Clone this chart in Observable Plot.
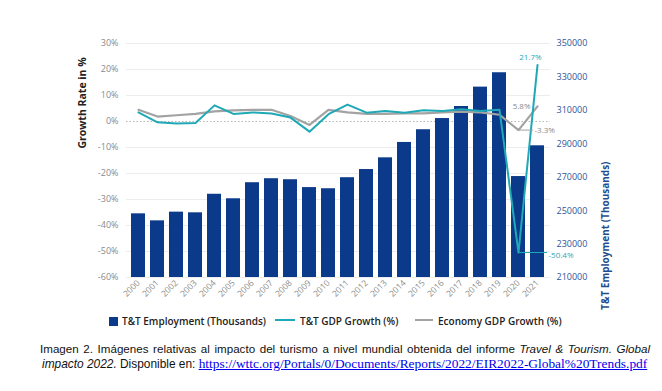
<!DOCTYPE html>
<html><head><meta charset="utf-8">
<script src="https://cdn.jsdelivr.net/npm/d3@7"></script>
<script src="https://cdn.jsdelivr.net/npm/@observablehq/plot@0.6"></script>
<style>
body{margin:0;background:#fff;}
#wrap{position:relative;width:662px;height:391px;overflow:hidden;}
#chart{position:absolute;left:0;top:0;}
.lg{position:absolute;font-family:"Open Sans",sans-serif;font-weight:600;font-size:10px;color:#222;line-height:12px;top:315px;white-space:nowrap;}
.sw{position:absolute;}
.cap{position:absolute;left:40px;width:610px;font-family:"Liberation Sans",Arial,sans-serif;font-size:11.6px;color:#111;text-align:justify;text-align-last:justify;white-space:nowrap;line-height:14px;}
.cap2{text-align:left;text-align-last:left;left:42px;font-size:11.9px;}
.cap a{font-family:"Liberation Serif","Times New Roman",serif;font-size:13.4px;color:#0000ee;text-decoration:underline;}
</style></head><body>
<div id="wrap">
<div id="chart"></div>
<div class="sw" style="left:109px;top:317px;width:9px;height:9px;background:#0b3a8a"></div>
<div class="lg" style="left:122px">T&amp;T Employment (Thousands)</div>
<div class="sw" style="left:275px;top:319px;width:20px;height:2px;background:#1fa9b6"></div>
<div class="lg" style="left:300px">T&amp;T GDP Growth (%)</div>
<div class="sw" style="left:415px;top:319px;width:18px;height:2px;background:#a3a3a3"></div>
<div class="lg" style="left:438px">Economy GDP Growth (%)</div>
<div class="cap" style="top:342px">Imagen 2. Imágenes relativas al impacto del turismo a nivel mundial obtenida del informe <i>Travel &amp; Tourism. Global</i></div>
<div class="cap cap2" style="top:357px"><i>impacto 2022.</i> Disponible en: <a href="https://wttc.org/Portals/0/Documents/Reports/2022/EIR2022-Global%20Trends.pdf">https://wttc.org/Portals/0/Documents/Reports/2022/EIR2022-Global%20Trends.pdf</a></div>
</div>
<script>
const years = ["2000","2001","2002","2003","2004","2005","2006","2007","2008","2009","2010","2011","2012","2013","2014","2015","2016","2017","2018","2019","2020","2021"];
const employment = [248100,243900,249100,248700,259800,257100,266700,269100,268500,263800,263100,269700,274600,281600,290800,298400,305100,312300,323900,332500,270400,288800];
const ttGdpGrowth = [3.5,-0.3,-0.8,-0.6,6.2,2.9,3.5,3.1,1.5,-3.9,2.8,6.5,3.4,4.0,3.4,4.3,4.0,4.7,4.0,4.5,-50.4,21.7];
const economyGdpGrowth = [4.5,1.9,2.4,2.9,3.9,4.3,4.5,4.5,2.1,-1.3,4.5,3.5,2.9,2.9,3.1,3.1,3.5,3.8,3.5,2.6,-3.3,5.8];
const leftTicks = [30,20,10,0,-10,-20,-30,-40,-50,-60];
const rightTicks = [350000,330000,310000,290000,270000,250000,230000,210000];
const pctDomain = [-60, 30];
const empDomain = [210000, 350000];

const toPct = v => pctDomain[0] + (v - empDomain[0]) / (empDomain[1] - empDomain[0]) * (pctDomain[1] - pctDomain[0]);
const toEmp = p => Math.round(empDomain[0] + (p - pctDomain[0]) / (pctDomain[1] - pctDomain[0]) * (empDomain[1] - empDomain[0]));

const data = years.map((year, i) => ({year, emp: employment[i], tt: ttGdpGrowth[i], econ: economyGdpGrowth[i]}));
const last = data[data.length - 1];
const prev = data[data.length - 2];

const plot = Plot.plot({
  width: 662, height: 310,
  marginLeft: 126, marginRight: 112, marginTop: 43, marginBottom: 33,
  style: {fontFamily: "Open Sans, sans-serif", background: "transparent", overflow: "visible"},
  x: {type: "band", domain: years, paddingInner: 0.26, paddingOuter: 0.13},
  y: {domain: pctDomain},
  marks: [
    Plot.ruleY(leftTicks.filter(d => d !== 0), {stroke: "#ececec", strokeWidth: 1}),
    Plot.ruleY([0], {stroke: "#b5b5b5", strokeWidth: 1, strokeDasharray: "1.5,2"}),
    Plot.barY(data, {x: "year", y1: () => pctDomain[0], y2: d => toPct(d.emp), fill: "#0b3a8a"}),
    Plot.line(data, {x: "year", y: "econ", stroke: "#a3a3a3", strokeWidth: 2.2}),
    Plot.line(data, {x: "year", y: "tt", stroke: "#1fa9b6", strokeWidth: 2}),
    Plot.tickY([prev], {x: "year", y: "econ", stroke: "#a3a3a3", strokeWidth: 1, dx: 8}),
    Plot.tickY([prev], {x: "year", y: "tt", stroke: "#1fa9b6", strokeWidth: 1, dx: 8}),
    Plot.tickY([last], {x: "year", y: d => prev.tt, stroke: "#1fa9b6", strokeWidth: 1, dx: 3}),
    Plot.text([last], {x: "year", y: "tt", text: d => d.tt + "%", fill: "#1fa9b6", fontSize: 8, dx: -7, dy: -8, textAnchor: "middle"}),
    Plot.text([last], {x: "year", y: "econ", text: d => d.econ + "%", fill: "#8a8a8a", fontSize: 8, dx: -7, textAnchor: "end"}),
    Plot.text([prev], {x: "year", y: "econ", text: d => d.econ + "%", fill: "#8a8a8a", fontSize: 8, dx: 16, textAnchor: "start"}),
    Plot.text([prev], {x: "year", y: "tt", text: d => d.tt + "%", fill: "#1fa9b6", fontSize: 8, dx: 30, dy: 3, textAnchor: "start"}),
    Plot.axisY(leftTicks, {anchor: "left", tickSize: 0, tickPadding: 8, tickFormat: d => d + "%", fill: "#8a8a8a", fontSize: 9, label: null}),
    Plot.axisY(rightTicks.map(toPct), {anchor: "right", tickSize: 0, tickPadding: 6, tickFormat: d => String(toEmp(d)), fill: "#2d5597", fontSize: 9, label: null}),
    Plot.axisX({anchor: "bottom", tickSize: 0, tickPadding: 4, tickRotate: -45, fill: "#8a8a8a", fontSize: 8.5, label: null}),
    Plot.text(["Growth Rate in %"], {frameAnchor: "left", dx: -44, dy: -12, rotate: -90, fontWeight: "bold", fontSize: 10.5, fill: "#222"}),
    Plot.text(["T&T Employment (Thousands)"], {frameAnchor: "right", dx: 55, dy: 1, rotate: -90, fontWeight: "bold", fontSize: 10, fill: "#1f4e8f"})
  ]
});
document.getElementById("chart").appendChild(plot);
</script>
</body></html>
